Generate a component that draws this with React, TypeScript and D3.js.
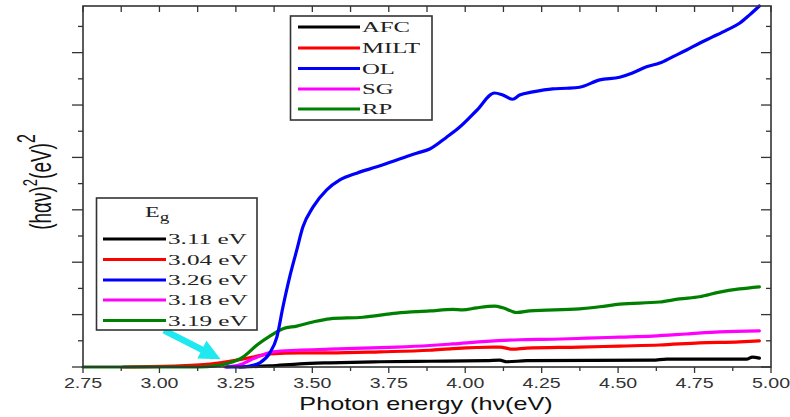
import React from "react";
import * as d3 from "d3";

const W = 790;
const H = 417;

// Axis ranges and tick labels
const xDomain = [2.75, 5.0];
const yDomain = [0, 6.89];
const xTickValues = [2.75, 3.0, 3.25, 3.5, 3.75, 4.0, 4.25, 4.5, 4.75, 5.0];
const xTickLabels = ["2.75", "3.00", "3.25", "3.50", "3.75", "4.00", "4.25", "4.50", "4.75", "5.00"];

// Series: photon energy (eV) and (hαν)² in arbitrary units
const afcE = [3.263, 3.361, 3.459, 3.557, 3.721, 3.884, 4.07, 4.113, 4.136, 4.201, 4.613, 4.659, 4.92, 4.939, 4.962];
const afcV = [0, 0.02, 0.06, 0.08, 0.1, 0.11, 0.12, 0.13, 0.1, 0.12, 0.13, 0.15, 0.15, 0.19, 0.17];

const miltE = [2.881, 3.067, 3.132, 3.198, 3.253, 3.306, 3.361, 3.459, 3.557, 3.721, 3.884, 3.959, 4.09, 4.113, 4.155, 4.201, 4.374, 4.505, 4.636, 4.766, 4.897, 4.962];
const miltV = [0, 0.02, 0.04, 0.08, 0.13, 0.19, 0.25, 0.27, 0.27, 0.29, 0.32, 0.35, 0.38, 0.38, 0.34, 0.36, 0.38, 0.4, 0.42, 0.46, 0.48, 0.5];

const olE = [3.22, 3.263, 3.296, 3.328, 3.361, 3.384, 3.404, 3.426, 3.449, 3.469, 3.502, 3.547, 3.59, 3.645, 3.711, 3.776, 3.841, 3.884, 3.94, 3.982, 4.038, 4.096, 4.123, 4.155, 4.178, 4.221, 4.286, 4.332, 4.374, 4.44, 4.505, 4.547, 4.593, 4.636, 4.678, 4.724, 4.766, 4.809, 4.855, 4.897, 4.93, 4.962];
const olV = [0, 0.0, 0.02, 0.08, 0.27, 0.57, 1.15, 1.72, 2.23, 2.67, 3.05, 3.38, 3.57, 3.7, 3.82, 3.95, 4.08, 4.16, 4.39, 4.58, 4.9, 5.23, 5.19, 5.11, 5.19, 5.25, 5.31, 5.32, 5.34, 5.48, 5.53, 5.61, 5.73, 5.8, 5.92, 6.05, 6.18, 6.3, 6.43, 6.56, 6.72, 6.89];

const sgE = [3.214, 3.263, 3.296, 3.338, 3.371, 3.449, 3.557, 3.665, 3.776, 3.884, 3.959, 4.07, 4.178, 4.286, 4.397, 4.505, 4.613, 4.724, 4.832, 4.962];
const sgV = [0, 0.04, 0.13, 0.23, 0.29, 0.32, 0.34, 0.36, 0.38, 0.41, 0.44, 0.49, 0.52, 0.53, 0.55, 0.57, 0.59, 0.63, 0.67, 0.69];

const rpE = [2.75, 3.132, 3.181, 3.23, 3.273, 3.319, 3.361, 3.404, 3.449, 3.502, 3.557, 3.665, 3.776, 3.884, 3.959, 3.992, 4.038, 4.096, 4.123, 4.168, 4.211, 4.374, 4.44, 4.505, 4.636, 4.701, 4.766, 4.832, 4.897, 4.962];
const rpV = [0, 0, 0.02, 0.08, 0.19, 0.42, 0.59, 0.73, 0.78, 0.86, 0.92, 0.95, 1.03, 1.07, 1.1, 1.09, 1.13, 1.16, 1.13, 1.04, 1.07, 1.11, 1.15, 1.2, 1.24, 1.3, 1.34, 1.43, 1.49, 1.53];

const seriesNames = ["AFC", "MILT", "OL", "SG", "RP"];
const bandGaps = ["3.11 eV", "3.04 eV", "3.26 eV", "3.18 eV", "3.19 eV"];
const seriesColors = ["#000000", "#ff0000", "#0000ff", "#ff00ff", "#008000"];
const seriesE = [afcE, miltE, olE, sgE, rpE];
const seriesV = [afcV, miltV, olV, sgV, rpV];
const drawOrder = [0, 1, 3, 4, 2];

// Arrow annotation (data coordinates)
const arrowFrom = [3.015, 0.7];
const arrowTo = [3.2, 0.15];

const PL = 83;
const PR = 771;
const PT = 6;
const PB = 367;
const frame = "#333";

export default function App() {
  const x = d3.scaleLinear().domain(xDomain).range([PL, PR]);
  const y = d3.scaleLinear().domain(yDomain).range([PB, PT]);

  const line = d3
    .line<[number, number]>()
    .x((d) => x(d[0]))
    .y((d) => y(d[1]))
    .curve(d3.curveMonotoneX);

  const xMinor = d3.range(2.75, 5.0001, 0.125);
  const yMinor = d3.range(0, 6.8, 0.5);

  // arrow geometry
  const sx = x(arrowFrom[0]);
  const sy = y(arrowFrom[1]);
  const tx = x(arrowTo[0]);
  const ty = y(arrowTo[1]);
  const len = Math.hypot(tx - sx, ty - sy);
  const ux = (tx - sx) / len;
  const uy = (ty - sy) / len;
  const nx = -uy;
  const ny = ux;
  const headLen = 21;
  const headHalf = 10;
  const shaftHalf = 3.2;
  const bx = tx - ux * headLen;
  const by = ty - uy * headLen;
  const arrowPts = [
    [sx + nx * shaftHalf, sy + ny * shaftHalf],
    [bx + nx * shaftHalf, by + ny * shaftHalf],
    [bx + nx * headHalf, by + ny * headHalf],
    [tx, ty],
    [bx - nx * headHalf, by - ny * headHalf],
    [bx - nx * shaftHalf, by - ny * shaftHalf],
    [sx - nx * shaftHalf, sy - ny * shaftHalf],
  ];

  const serif = "'Liberation Serif', 'Times New Roman', serif";
  const sans = "'Liberation Sans', Arial, sans-serif";
  const legendRows1 = [27, 48, 68.5, 89, 109];
  const legendRows2 = [239, 259.5, 280, 300, 320.5];

  return (
    <svg
      width={W}
      height={H}
      viewBox={`0 0 ${W} ${H}`}
      style={{ position: "absolute", left: 0, top: 0, background: "#fff" }}
    >
      <rect x={0} y={0} width={W} height={H} fill="#fff" />

      {/* series */}
      <g fill="none" strokeWidth={3.2} strokeLinejoin="round" strokeLinecap="round">
        {drawOrder.map((i) => (
          <path
            key={seriesNames[i]}
            d={line(seriesE[i].map((e, k) => [e, seriesV[i][k]]) as [number, number][]) || ""}
            stroke={seriesColors[i]}
          />
        ))}
      </g>

      {/* frame */}
      <rect x={PL} y={PT} width={PR - PL} height={PB - PT} fill="none" stroke={frame} strokeWidth={1.6} />

      {/* ticks */}
      <g stroke={frame} strokeWidth={1.3}>
        {xMinor.map((v, i) => {
          const major = i % 2 === 0;
          return (
            <g key={i}>
              <line x1={x(v)} x2={x(v)} y1={PB} y2={PB + (major ? 6 : 4)} />
              <line x1={x(v)} x2={x(v)} y1={PT} y2={PT + 6} />
            </g>
          );
        })}
        {yMinor.map((v, i) => {
          const major = i % 2 === 0;
          return (
            <g key={"y" + i}>
              <line x1={PL} x2={PL - (major ? 11 : 5)} y1={y(v)} y2={y(v)} />
              <line x1={PR} x2={PR - (major ? 10 : 5)} y1={y(v)} y2={y(v)} />
            </g>
          );
        })}
      </g>

      {/* x tick labels */}
      {xTickValues.map((v, i) => (
        <g key={"xl" + i} transform={`translate(${x(v)},388) scale(1.4,1)`}>
          <text textAnchor="middle" fontFamily={sans} fontSize={14} fill="#333">
            {xTickLabels[i]}
          </text>
        </g>
      ))}

      {/* axis titles */}
      <g transform="translate(426,410) scale(1.4,1)">
        <text textAnchor="middle" fontFamily={sans} fontSize={18} fill="#111">
          Photon energy (hν(eV)
        </text>
      </g>
      <g transform="translate(51,182) scale(1.6,1) rotate(-90)">
        <text textAnchor="middle" fontFamily={sans} fontSize={19} fill="#111">
          (hαν)
          <tspan fontSize={13} dy={-9}>2</tspan>
          <tspan dy={9}>(eV)</tspan>
          <tspan fontSize={16} dy={-10}>2</tspan>
        </text>
      </g>

      {/* arrow */}
      <polygon points={arrowPts.map((p) => p.join(",")).join(" ")} fill="#1ee8f0" />

      {/* series legend */}
      <rect x={290.5} y={16} width={141.5} height={104} fill="#fff" stroke={frame} strokeWidth={1.6} />
      {seriesNames.map((name, i) => (
        <g key={"l1" + name}>
          <line x1={298} x2={360} y1={legendRows1[i]} y2={legendRows1[i]} stroke={seriesColors[i]} strokeWidth={3.2} />
          <g transform={`translate(362,${legendRows1[i] + 5}) scale(1.65,1)`}>
            <text fontFamily={serif} fontSize={15} fill="#222">
              {name}
            </text>
          </g>
        </g>
      ))}

      {/* band gap legend */}
      <rect x={96.5} y={198} width={160.5} height={132} fill="#fff" stroke={frame} strokeWidth={1.6} />
      <g transform="translate(145,217) scale(1.6,1)">
        <text fontFamily={serif} fontSize={15} fill="#222">
          E<tspan fontSize={12} dy={4}>g</tspan>
        </text>
      </g>
      {bandGaps.map((g, i) => (
        <g key={"l2" + i}>
          <line x1={103} x2={166} y1={legendRows2[i]} y2={legendRows2[i]} stroke={seriesColors[i]} strokeWidth={3.2} />
          <g transform={`translate(168,${legendRows2[i] + 5}) scale(1.68,1)`}>
            <text fontFamily={serif} fontSize={15} fill="#222">
              {g}
            </text>
          </g>
        </g>
      ))}
    </svg>
  );
}
